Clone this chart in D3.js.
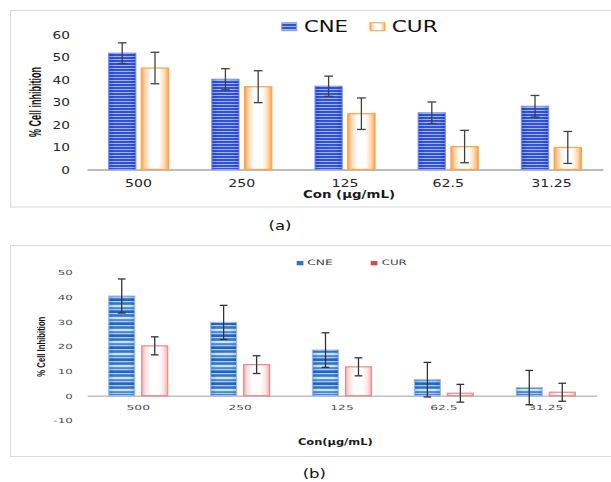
<!DOCTYPE html>
<html>
<head>
<meta charset="utf-8">
<script src="https://cdn.jsdelivr.net/npm/d3@7"></script>
<style>
  body { margin: 0; background: #fff; }
  svg { display: block; }
</style>
</head>
<body>
<div id="chart"></div>
<script>
// categories and series
const categories = ["500", "250", "125", "62.5", "31.25"];
const seriesNames = ["CNE", "CUR"];

// panel (a)
const cneA = [51.7, 40.1, 37.0, 25.2, 28.1];
const cneErrA = [4.6, 4.7, 4.5, 4.8, 4.8];
const curA = [45.1, 36.8, 24.8, 10.2, 9.8];
const curErrA = [7.0, 7.1, 7.0, 7.2, 7.1];
const yTicksA = [0, 10, 20, 30, 40, 50, 60];

// panel (b)
const cneB = [40.4, 29.7, 18.5, 6.5, 3.3];
const cneErrB = [6.9, 6.9, 7.0, 7.0, 6.95];
const curB = [20.2, 12.6, 11.7, 1.0, 1.4];
const curErrB = [3.65, 3.6, 3.65, 3.6, 3.65];
const yTicksB = [-10, 0, 10, 20, 30, 40, 50];

const svg = d3.select("#chart").append("svg")
    .attr("width", 611)
    .attr("height", 482);

const defs = svg.append("defs");

// fills: striped blue for (a) CNE
const pA = defs.append("pattern").attr("id", "stripeA")
    .attr("patternUnits", "userSpaceOnUse").attr("width", 4).attr("height", 3);
pA.append("rect").attr("width", 4).attr("height", 3).attr("fill", "#2f52da");
pA.append("rect").attr("y", 2).attr("width", 4).attr("height", 1).attr("fill", "#a3b5f2");

// striped blue for (b) CNE
const pB = defs.append("pattern").attr("id", "stripeB")
    .attr("patternUnits", "userSpaceOnUse").attr("width", 4).attr("height", 12);
pB.append("rect").attr("width", 4).attr("height", 12).attr("fill", "#4a8cdb");
[[0, 1, "#2467c6"], [1, 1, "#b8d2f1"], [3, 1, "#3277ce"], [5, 2, "#d3e3f6"],
 [7, 1, "#5896dc"], [9, 1, "#a9c8ee"], [11, 1, "#2263c3"]].forEach(r => {
  pB.append("rect").attr("y", r[0]).attr("width", 4).attr("height", r[1]).attr("fill", r[2]);
});

function hGrad(id, stops) {
  const lg = defs.append("linearGradient").attr("id", id)
      .attr("x1", 0).attr("x2", 1).attr("y1", 0).attr("y2", 0);
  stops.forEach(s => lg.append("stop").attr("offset", s[0]).attr("stop-color", s[1]).attr("stop-opacity", s[2] == null ? 1 : s[2]));
}
hGrad("edgeA", [[0, "#0a1e9a", 0.25], [0.22, "#0a1e9a", 0], [0.78, "#0a1e9a", 0], [1, "#0a1e9a", 0.25]]);
hGrad("edgeB", [[0, "#0b3f96", 0.2], [0.22, "#0b3f96", 0], [0.78, "#0b3f96", 0], [1, "#0b3f96", 0.2]]);
hGrad("orangeA", [[0, "#ffa040"], [0.14, "#ffd6ae"], [0.34, "#ffffff"], [0.66, "#ffffff"], [0.86, "#ffd6ae"], [1, "#ffa040"]]);
hGrad("pinkB", [[0, "#f2aaaa"], [0.14, "#fbe2e2"], [0.34, "#ffffff"], [0.66, "#ffffff"], [0.86, "#fbe2e2"], [1, "#f2aaaa"]]);

// width of a number label, per character
function textW(s, digit) {
  let w = 0;
  for (const ch of s) w += ch === "." ? digit * 0.5 : ch === "-" ? digit * 0.58 : digit;
  return w;
}

function fitText(g, txt, x, y, width, fs, opt) {
  const t = g.append("text")
      .attr("x", x).attr("y", y)
      .attr("font-size", fs)
      .attr("font-family", opt.family || "DejaVu Sans, sans-serif")
      .attr("font-weight", opt.weight || "normal")
      .attr("fill", opt.fill || "#222")
      .attr("textLength", width)
      .attr("lengthAdjust", "spacingAndGlyphs")
      .text(txt);
  if (opt.transform) t.attr("transform", opt.transform);
  if (opt.anchor) t.attr("text-anchor", opt.anchor);
  return t;
}

const panels = [
  {
    box: [10.5, 10.5, 640, 196.5],
    values: [cneA, curA], errors: [cneErrA, curErrA],
    yTicks: yTicksA, yDomain: [0, 60], yRange: [169.5, 34.5],
    xRange: [87, 603], pad: 0.418, subPad: 0.168,
    fills: ["url(#stripeA)", "url(#orangeA)"], overlay: ["url(#edgeA)", null],
    strokes: ["#8fa2ee", "#ffa24a"],
    axisColor: "#a6a6a6",
    yTickFs: 9.8, yDigit: 8.7, yPad: 17, tickFill: "#262626",
    xTickFs: 9.8, xDigit: 9, xLabelY: 17,
    capW: 8.7, errColor: "#404040",
    yTitle: "% Cell inhibition", yTitlePos: [40.5, 102], yTitleLen: 70, yTitleFs: 16,
    xTitle: "Con (\u00b5g/mL)", xTitlePos: [349, 197.8], xTitleLen: 92, xTitleFs: 10.5,
    legendSw: [[281.7, 22.7], [370, 22.7]], swW: 15, swH: 8,
    legendSwFill: ["url(#stripeA)", "url(#orangeA)"], legendSwStroke: ["#8fa2ee", "#ffa24a"],
    legendTxt: [[304, 31.7, 44], [391.7, 31.7, 46]], legendFs: 15, legendFill: "#111",
    caption: "(a)", captionPos: [268.5, 229.8, 23], captionFs: 11.5
  },
  {
    box: [10.5, 245.5, 640, 211],
    values: [cneB, curB], errors: [cneErrB, curErrB],
    yTicks: yTicksB, yDomain: [-10, 50], yRange: [420.4, 272.3],
    xRange: [87.3, 596.7], pad: 0.421, subPad: 0.212,
    fills: ["url(#stripeB)", "url(#pinkB)"], overlay: ["url(#edgeB)", null],
    strokes: ["#a6c6ee", "#ec8a8a"],
    axisColor: "#bfbfbf",
    yTickFs: 7, yDigit: 7.5, yPad: 14.6, tickFill: "#4d4d4d",
    xTickFs: 7, xDigit: 7.8, xLabelY: 14.2,
    capW: 7.7, errColor: "#333",
    yTitle: "% Cell Inhibition", yTitlePos: [45, 346.7], yTitleLen: 60, yTitleFs: 11.8,
    xTitle: "Con(\u00b5g/mL)", xTitlePos: [335.3, 444.5], xTitleLen: 74.7, xTitleFs: 9,
    legendSw: [[296.7, 261], [370.7, 261]], swW: 6.7, swH: 4.3,
    legendSwFill: ["#2f74cf", "#e04848"], legendSwStroke: [null, null],
    legendTxt: [[307.3, 265.4, 25.4], [381.7, 265.4, 25]], legendFs: 7.4, legendFill: "#404040",
    caption: "(b)", captionPos: [302.7, 478.3, 23.3], captionFs: 11.5
  }
];

panels.forEach(p => {
  const g = svg.append("g");

  // frame
  g.append("rect")
      .attr("x", p.box[0]).attr("y", p.box[1])
      .attr("width", p.box[2]).attr("height", p.box[3])
      .attr("fill", "none").attr("stroke", "#d9d9d9");

  const x = d3.scaleBand().domain(categories).range(p.xRange)
      .paddingInner(p.pad).paddingOuter(p.pad / 2);
  const x1 = d3.scaleBand().domain(seriesNames).range([0, x.bandwidth()])
      .paddingInner(p.subPad);
  const y = d3.scaleLinear().domain(p.yDomain).range(p.yRange);

  // y axis (labels only)
  const yAxis = g.append("g")
      .attr("transform", `translate(${p.xRange[0]},0)`)
      .call(d3.axisLeft(y).tickValues(p.yTicks).tickSize(0).tickPadding(p.yPad).tickFormat(d => String(d)));
  yAxis.select(".domain").remove();
  yAxis.selectAll("text")
      .attr("font-family", "DejaVu Sans, sans-serif")
      .attr("font-size", p.yTickFs)
      .attr("fill", p.tickFill)
      .attr("dy", "0.36em")
      .attr("textLength", d => textW(String(d), p.yDigit))
      .attr("lengthAdjust", "spacingAndGlyphs");

  // x axis at zero
  const xAxis = g.append("g")
      .attr("transform", `translate(0,${y(0)})`)
      .call(d3.axisBottom(x).tickSize(0).tickSizeOuter(0));
  xAxis.select(".domain").attr("stroke", p.axisColor).attr("stroke-width", 1.4);
  xAxis.selectAll("text")
      .attr("font-family", "DejaVu Sans, sans-serif")
      .attr("font-size", p.xTickFs)
      .attr("fill", p.tickFill)
      .attr("y", p.xLabelY)
      .attr("dy", null)
      .attr("textLength", d => textW(d, p.xDigit))
      .attr("lengthAdjust", "spacingAndGlyphs");

  const rows = categories.flatMap((c, i) => seriesNames.map((s, j) => ({
    c, s, j, v: p.values[j][i], e: p.errors[j][i]
  })));

  // bars
  const bars = g.append("g");
  bars.selectAll("rect.bar")
    .data(rows)
    .join("rect")
      .attr("class", "bar")
      .attr("x", d => x(d.c) + x1(d.s))
      .attr("y", d => Math.min(y(d.v), y(0)))
      .attr("width", x1.bandwidth())
      .attr("height", d => Math.abs(y(0) - y(d.v)))
      .attr("fill", d => p.fills[d.j])
      .attr("stroke", d => p.strokes[d.j])
      .attr("stroke-width", 1.2);
  bars.selectAll("rect.shade")
    .data(rows.filter(d => p.overlay[d.j]))
    .join("rect")
      .attr("class", "shade")
      .attr("x", d => x(d.c) + x1(d.s))
      .attr("y", d => Math.min(y(d.v), y(0)))
      .attr("width", x1.bandwidth())
      .attr("height", d => Math.abs(y(0) - y(d.v)))
      .attr("fill", d => p.overlay[d.j]);

  // error bars
  const err = g.append("g")
      .attr("stroke", p.errColor)
      .attr("stroke-width", 1.3)
      .attr("fill", "none");
  const cx = d => x(d.c) + x1(d.s) + x1.bandwidth() / 2;
  err.selectAll("line.stem")
    .data(rows)
    .join("line")
      .attr("class", "stem")
      .attr("x1", cx).attr("x2", cx)
      .attr("y1", d => y(d.v + d.e)).attr("y2", d => y(d.v - d.e));
  err.selectAll("line.capT")
    .data(rows)
    .join("line")
      .attr("class", "capT")
      .attr("x1", d => cx(d) - p.capW / 2).attr("x2", d => cx(d) + p.capW / 2)
      .attr("y1", d => y(d.v + d.e)).attr("y2", d => y(d.v + d.e));
  err.selectAll("line.capB")
    .data(rows)
    .join("line")
      .attr("class", "capB")
      .attr("x1", d => cx(d) - p.capW / 2).attr("x2", d => cx(d) + p.capW / 2)
      .attr("y1", d => y(d.v - d.e)).attr("y2", d => y(d.v - d.e));

  // axis titles
  fitText(g, p.yTitle, 0, 0, p.yTitleLen, p.yTitleFs, {
    family: "Liberation Sans Narrow, Liberation Sans, Arial, sans-serif", weight: "bold",
    fill: "#111", anchor: "middle",
    transform: `translate(${p.yTitlePos[0]},${p.yTitlePos[1]}) rotate(-90)`
  });
  fitText(g, p.xTitle, p.xTitlePos[0], p.xTitlePos[1], p.xTitleLen, p.xTitleFs, {
    weight: "bold", fill: "#1a1a1a", anchor: "middle"
  });

  // legend
  seriesNames.forEach((s, j) => {
    const sw = g.append("rect")
        .attr("x", p.legendSw[j][0]).attr("y", p.legendSw[j][1])
        .attr("width", p.swW).attr("height", p.swH)
        .attr("fill", p.legendSwFill[j]);
    if (p.legendSwStroke[j]) sw.attr("stroke", p.legendSwStroke[j]).attr("stroke-width", 1);
    fitText(g, s, p.legendTxt[j][0], p.legendTxt[j][1], p.legendTxt[j][2], p.legendFs, {
      fill: p.legendFill
    });
  });

  // caption
  fitText(g, p.caption, p.captionPos[0], p.captionPos[1], p.captionPos[2], p.captionFs, {
    fill: "#111"
  });
});
</script>
</body>
</html>
